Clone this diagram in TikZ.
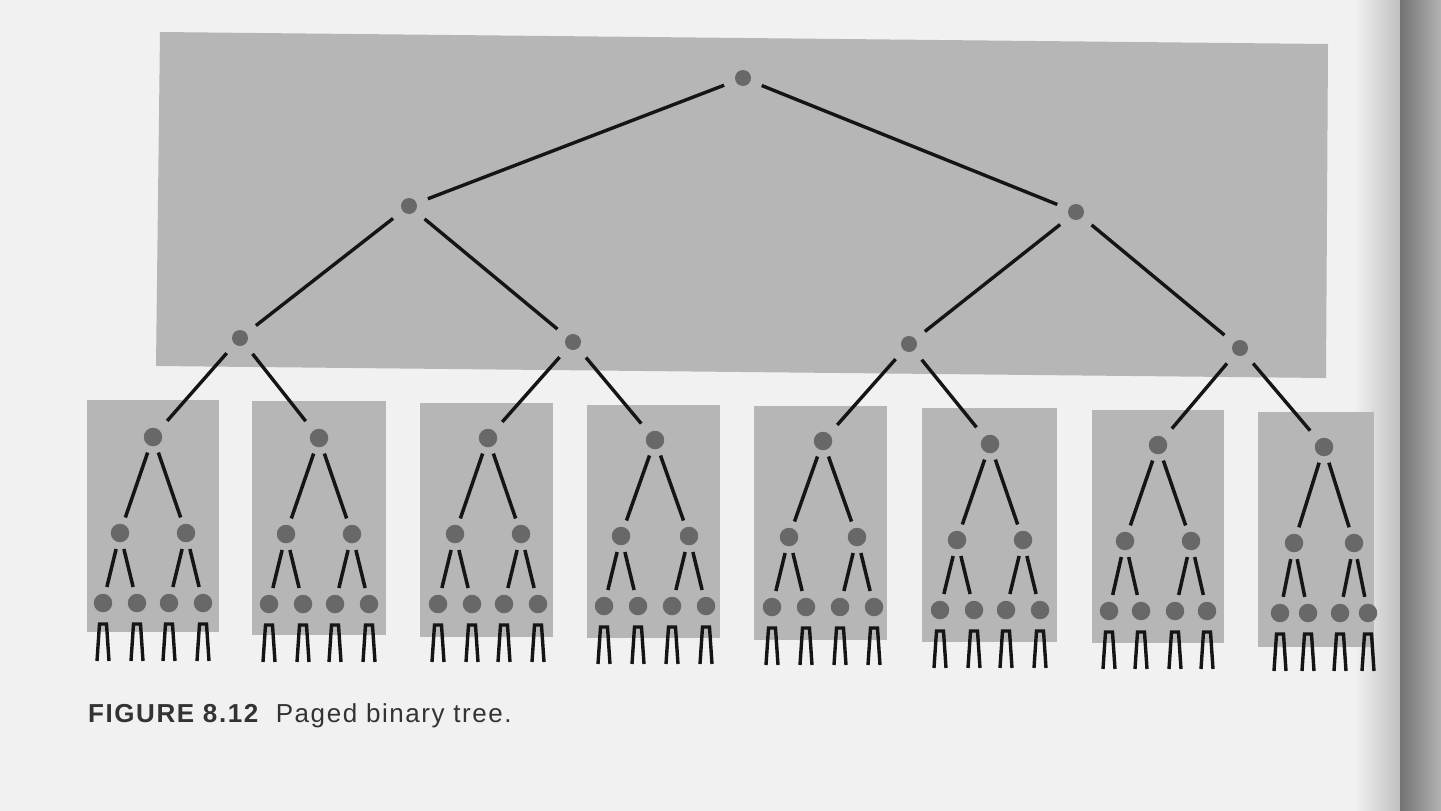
\documentclass[tikz,border=0pt]{standalone}
\usepackage{fontspec}
\setmainfont{Liberation Sans}
\usetikzlibrary{calc}
\definecolor{bgc}{HTML}{F1F1F1}
\definecolor{boxc}{HTML}{B6B6B6}
\definecolor{dotc}{HTML}{686868}
\definecolor{linec}{HTML}{151515}
\tikzset{
  dot/.style={circle,fill=dotc,draw=none,inner sep=0pt,minimum size=16pt},
  pdot/.style={dot,minimum size=18.5pt},
  topedge/.style={draw=linec,line width=3.4pt,shorten <=12pt,shorten >=12pt},
  pageedge/.style={draw=linec,line width=3.5pt,shorten <=7pt,shorten >=7pt},
  leafedge/.style={draw=linec,line width=3.4pt,line join=miter},
  pagebox/.style={fill=boxc,draw=none},
  caption/.style={anchor=base west,inner sep=0pt,text=black!80,font=\fontsize{26}{30}\selectfont}
}
\begin{document}
\begin{tikzpicture}[x=1pt,y=-1pt]
\useasboundingbox (0,0) rectangle (1441,811);
\fill[bgc] (0,0) rectangle (1441,811);
% binding shadow
\shade[left color=bgc,right color=black!25] (1355,0) rectangle (1400,811);
\shade[left color=black!55,right color=black!30] (1400,0) rectangle (1441,811);
% top page
\fill[boxc] (160,32) -- (1328,44) -- (1326,378) -- (156,366) -- cycle;
% top tree nodes
\node[dot] (t) at (743,78) {};
\node[dot] (a) at (409,206) {};
\node[dot] (b) at (1076,212) {};
\node[dot] (aa) at (240,338) {};
\node[dot] (ab) at (573,342) {};
\node[dot] (ba) at (909,344) {};
\node[dot] (bb) at (1240,348) {};
\draw[topedge] (t) -- (a);
\draw[topedge] (t) -- (b);
\draw[topedge] (a) -- (aa);
\draw[topedge] (a) -- (ab);
\draw[topedge] (b) -- (ba);
\draw[topedge] (b) -- (bb);
% pages
\foreach \i/\L/\T/\R/\B/\rx/\ry/\da/\db in {
  1/87/400/219/632/153/437/33/17,
  2/252/401/386/635/319/438/33/17,
  3/420/403/553/637/488/438/33/17,
  4/587/405/720/638/655/440/34/17,
  5/754/406/887/640/823/441/34/17,
  6/922/408/1057/642/990/444/33/17,
  7/1092/410/1224/643/1158/445/33/16,
  8/1258/412/1374/647/1324/447/30/14}{
  \fill[pagebox] (\L,\T) rectangle (\R,\B);
  \node[pdot] (p\i) at (\rx,\ry) {};
  \node[pdot] (p\i a) at ({\rx-\da},{\ry+96}) {};
  \node[pdot] (p\i b) at ({\rx+\da},{\ry+96}) {};
  \node[pdot] (p\i aa) at ({\rx-\da-\db},{\ry+166}) {};
  \node[pdot] (p\i ab) at ({\rx-\da+\db},{\ry+166}) {};
  \node[pdot] (p\i ba) at ({\rx+\da-\db},{\ry+166}) {};
  \node[pdot] (p\i bb) at ({\rx+\da+\db},{\ry+166}) {};
  \draw[pageedge] (p\i) -- (p\i a);
  \draw[pageedge] (p\i) -- (p\i b);
  \draw[pageedge] (p\i a) -- (p\i aa);
  \draw[pageedge] (p\i a) -- (p\i ab);
  \draw[pageedge] (p\i b) -- (p\i ba);
  \draw[pageedge] (p\i b) -- (p\i bb);
  \foreach \lf in {aa,ab,ba,bb}{
    \coordinate (q) at (p\i\lf);
    \draw[leafedge] ($(q)+(-6,58)$) -- ($(q)+(-3.5,21)$) -- ($(q)+(3.5,21)$) -- ($(q)+(6,58)$);
  }
}
% connections from top page to page roots
\draw[topedge] (aa) -- (p1);
\draw[topedge] (aa) -- (p2);
\draw[topedge] (ab) -- (p3);
\draw[topedge] (ab) -- (p4);
\draw[topedge] (ba) -- (p5);
\draw[topedge] (ba) -- (p6);
\draw[topedge] (bb) -- (p7);
\draw[topedge] (bb) -- (p8);
% caption
\node[caption] (cap) at (88,722) {\addfontfeature{LetterSpace=6}\textbf{FIGURE 8.12}\hspace{16pt}Paged binary tree.};
\end{tikzpicture}
\end{document}
